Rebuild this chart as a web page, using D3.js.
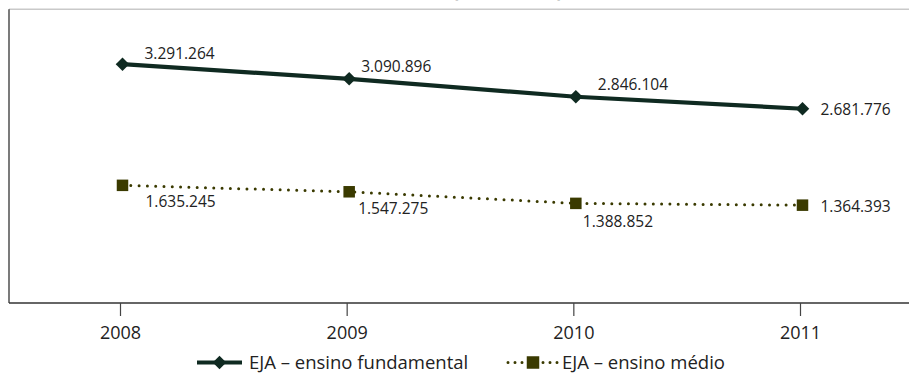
<!DOCTYPE html>
<html lang="pt-BR">
<head>
<meta charset="utf-8">
<script src="https://cdn.jsdelivr.net/npm/d3@7"></script>
<style>
  html, body { margin: 0; padding: 0; background: #fff; }
  svg { display: block; font-family: "Open Sans", "DejaVu Sans", sans-serif; }
</style>
</head>
<body>
<svg id="chart" width="909" height="374"></svg>
<script>
// Matrículas na EJA por etapa, 2008–2011
const years = ["2008", "2009", "2010", "2011"];
const fundamental = [3291264, 3090896, 2846104, 2681776];
const medio = [1635245, 1547275, 1388852, 1364393];
const seriesNames = ["EJA – ensino fundamental", "EJA – ensino médio"];
const titleText = "(2008-2011)";

// label nudges (px) relative to each marker: [dx to left edge, dy to text middle]
const fundLabelOffset = [[22, -11], [12, -12], [22, -12], [18, 1]];
const medioLabelOffset = [[23, 16], [9, 17], [7, 18], [18, 1]];

const colFund = "#0f2a21";
const colMedio = "#3a3a00";

const ptBR = d3.formatLocale({ decimal: ",", thousands: ".", grouping: [3], currency: ["R$", ""] });
const fmt = ptBR.format(",d");

const svg = d3.select("#chart");

const frame = { left: 9, top: 9.3, bottom: 303, right: 909 };
const x = d3.scalePoint().domain(years).range([120, 800]);
const markerShift = 2.5;
const y = d3.scaleLinear().domain([0, 4000000]).range([305, 12.3]);

// title (sits mostly above the visible area)
svg.append("text")
  .attr("x", 452).attr("y", -2.6)
  .attr("font-size", 20).attr("font-weight", 700)
  .attr("fill", "#333")
  .text(titleText);

// frame
svg.append("line")
  .attr("x1", frame.left).attr("x2", frame.right)
  .attr("y1", frame.top).attr("y2", frame.top)
  .attr("stroke", "#c9c9c9").attr("stroke-width", 1.5);
svg.append("line")
  .attr("x1", frame.left).attr("x2", frame.left)
  .attr("y1", frame.top).attr("y2", frame.bottom)
  .attr("stroke", "#333").attr("stroke-width", 1.3);
svg.append("line")
  .attr("x1", frame.left).attr("x2", frame.right)
  .attr("y1", frame.bottom).attr("y2", frame.bottom)
  .attr("stroke", "#333").attr("stroke-width", 1.3);

// x axis
const xAxis = svg.append("g")
  .attr("transform", `translate(0,${frame.bottom})`)
  .call(d3.axisBottom(x).tickSize(13).tickSizeOuter(0).tickPadding(10));
xAxis.select(".domain").remove();
xAxis.selectAll(".tick line").attr("stroke", "#444").attr("stroke-width", 1.2);
xAxis.selectAll(".tick text")
  .attr("font-family", "Open Sans, sans-serif")
  .attr("font-size", 18).attr("fill", "#222");

const px = (d, i) => x(years[i]) + markerShift;

// series lines
const lineGen = d3.line().x((d, i) => px(d, i)).y(d => y(d));

svg.append("path")
  .datum(medio)
  .attr("d", lineGen)
  .attr("fill", "none")
  .attr("stroke", colMedio)
  .attr("stroke-width", 3)
  .attr("stroke-linecap", "round")
  .attr("stroke-dasharray", "0 8.3");

svg.append("path")
  .datum(fundamental)
  .attr("d", lineGen)
  .attr("fill", "none")
  .attr("stroke", colFund)
  .attr("stroke-width", 4.2);

// markers
const diamond = d3.symbol().type(d3.symbolSquare).size(92);
svg.selectAll(".mk-fund")
  .data(fundamental).join("path")
  .attr("class", "mk-fund")
  .attr("d", diamond)
  .attr("transform", (d, i) => `translate(${px(d, i)},${y(d)}) rotate(45)`)
  .attr("fill", colFund);

const sq = 11.5;
svg.selectAll(".mk-medio")
  .data(medio).join("rect")
  .attr("class", "mk-medio")
  .attr("x", (d, i) => px(d, i) - sq / 2)
  .attr("y", d => y(d) - sq / 2)
  .attr("width", sq).attr("height", sq)
  .attr("fill", colMedio);

// value labels
function labels(data, offs, cls) {
  svg.selectAll("." + cls)
    .data(data).join("text")
    .attr("class", cls)
    .attr("x", (d, i) => px(d, i) + offs[i][0])
    .attr("y", (d, i) => y(d) + offs[i][1])
    .attr("dy", "0.36em")
    .attr("font-size", 15.5)
    .attr("fill", "#222")
    .text(d => fmt(d));
}
labels(fundamental, fundLabelOffset, "lb-fund");
labels(medio, medioLabelOffset, "lb-medio");

// legend
const lg = svg.append("g");
const ly = 362.5;
const lBase = 369.2;
lg.append("line")
  .attr("x1", 197).attr("x2", 242).attr("y1", ly).attr("y2", ly)
  .attr("stroke", colFund).attr("stroke-width", 4.2);
lg.append("path")
  .attr("d", diamond)
  .attr("transform", `translate(219.5,${ly}) rotate(45)`)
  .attr("fill", colFund);
lg.append("text")
  .attr("x", 249).attr("y", lBase)
  .attr("font-size", 18.5).attr("fill", "#222")
  .text(seriesNames[0]);

lg.append("line")
  .attr("x1", 508).attr("x2", 558).attr("y1", ly).attr("y2", ly)
  .attr("stroke", colMedio).attr("stroke-width", 3)
  .attr("stroke-linecap", "round")
  .attr("stroke-dasharray", "0 7");
lg.append("rect")
  .attr("x", 533 - 6.25).attr("y", ly - 6.25)
  .attr("width", 12.5).attr("height", 12.5)
  .attr("fill", colMedio);
lg.append("text")
  .attr("x", 562).attr("y", lBase)
  .attr("font-size", 18.5).attr("fill", "#222")
  .text(seriesNames[1]);
</script>
</body>
</html>
